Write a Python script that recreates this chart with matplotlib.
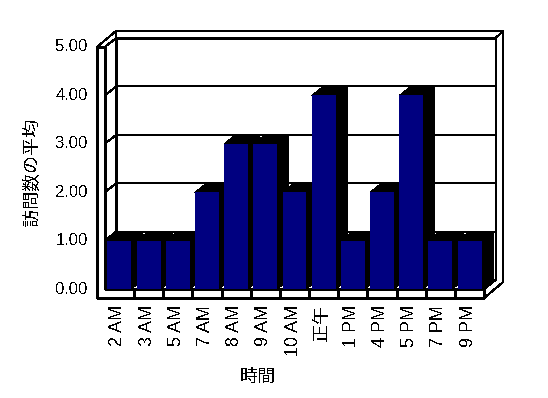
import matplotlib
matplotlib.use('Agg')
import matplotlib.pyplot as plt
from matplotlib.patches import Polygon, Rectangle

plt.rcParams['font.family'] = ['Liberation Sans', 'Noto Sans CJK JP']
plt.rcParams['text.antialiased'] = False

categories = ['2 AM', '3 AM', '5 AM', '7 AM', '8 AM', '9 AM', '10 AM',
              '正午', '1 PM', '4 PM', '5 PM', '7 PM', '9 PM']
visits = [1, 1, 1, 2, 3, 3, 2, 4, 1, 2, 4, 1, 1]
y_ticks = [0, 1, 2, 3, 4, 5]
y_title = '訪問数の平均'
x_title = '時間'

N = len(categories)
VMAX = y_ticks[-1]

# oblique 3d look: inner depth (floor/bars) and outer depth (wall slabs)
DX, DY = 0.394, 0.186
OX, OY = 0.65, 0.33
TW = 0.267   # left wall front thickness
FS = 0.186   # floor slab thickness
GAP, BW = 0.09, 0.82
NAVY = '#000080'
LW = 0.8

fig = plt.figure(figsize=(5.48, 3.98), dpi=100)
ax = fig.add_axes([0, 0, 1, 1])
ax.set_xlim(-3.591, 15.188)
ax.set_ylim(-2.252, 5.971)
ax.axis('off')


def poly(pts, fc='white', ec='black', z=1):
    ax.add_patch(Polygon(pts, closed=True, facecolor=fc, edgecolor=ec,
                         linewidth=LW, antialiased=False, zorder=z))


def line(xs, ys, z=2):
    ax.plot(xs, ys, color='black', lw=LW, antialiased=False, zorder=z,
            solid_capstyle='butt')


# back wall inner face
poly([(DX, DY), (N + DX, DY), (N + DX, VMAX + DY), (DX, VMAX + DY)], z=1)
# back wall top strip
poly([(DX, VMAX + DY), (N + DX, VMAX + DY), (N + OX, VMAX + OY),
      (-TW + OX, VMAX + OY)], z=1)
# right side: back wall edge + floor end
poly([(N + DX, DY), (N + DX, VMAX + DY), (N + OX, VMAX + OY),
      (N + OX, -FS + OY), (N, -FS), (N, 0)], z=1)
# floor top
poly([(0, 0), (N, 0), (N + DX, DY), (DX, DY)], z=1)
# left wall top
poly([(-TW, VMAX), (0, VMAX), (DX, VMAX + DY), (-TW + OX, VMAX + OY)], z=1)
# left wall inner face
poly([(0, 0), (0, VMAX), (DX, VMAX + DY), (DX, DY)], z=1)

# gridlines
for v in y_ticks[1:-1]:
    line([-TW, 0, DX, N + DX], [v, v, v + DY, v + DY])

# left wall front + floor front slab
poly([(-TW, VMAX), (0, VMAX), (0, 0), (N, 0), (N, -FS), (-TW, -FS)], z=3)
for k in range(1, N):
    line([k, k], [0, -FS], z=3)

# bars
for k, h in enumerate(visits):
    x0 = k + GAP
    x1 = x0 + BW
    ax.add_patch(Polygon([(x0, h), (x0 + DX, h + DY), (x1 + DX, h + DY),
                          (x1 + DX, DY), (x1, 0), (x1, h)], closed=True,
                         facecolor='black', edgecolor='none',
                         antialiased=False, zorder=4))
    ax.add_patch(Rectangle((x0, 0), BW, h, facecolor=NAVY,
                           edgecolor='none', antialiased=False, zorder=5))

# tick labels
for v in y_ticks:
    ax.text(-0.576, v, '%.2f' % v, ha='right', va='center', fontsize=12)
for k, c in enumerate(categories):
    ax.text(k + 0.45, -0.33, c, ha='center', va='top', rotation=90,
            fontsize=13)

ax.text(5.25, -1.818, x_title, ha='center', va='center', fontsize=13)
ax.text(-2.46, 2.42, y_title, ha='center', va='center', rotation=90,
        fontsize=13)

fig.savefig('out.png', dpi=100)
